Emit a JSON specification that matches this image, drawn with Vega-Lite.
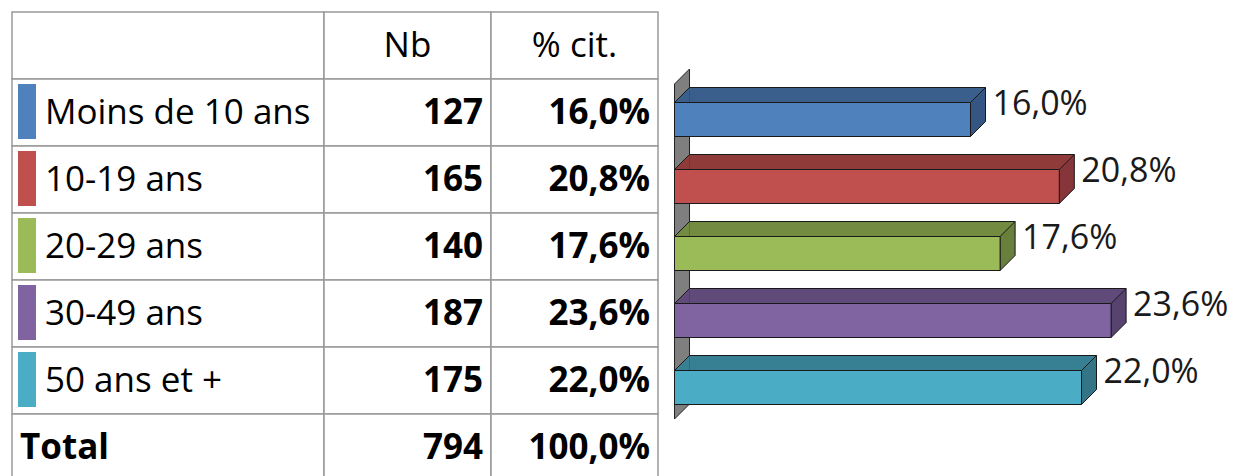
{
  "$schema": "https://vega.github.io/schema/vega-lite/v6.json",
  "padding": {"left": 11, "top": 11, "right": 0, "bottom": 0},
  "background": "white",
  "spacing": 13.5,
  "config": {
    "view": {"stroke": null},
    "font": "Open Sans",
    "locale": {"number": {"decimal": ",", "thousands": " ", "grouping": [3], "currency": ["", " €"]}}
  },
  "datasets": {
    "table": [
      {"row": "head", "kind": "head"},
      {"row": "Moins de 10 ans", "kind": "cat", "nb": 127, "pct": 0.160},
      {"row": "10-19 ans", "kind": "cat", "nb": 165, "pct": 0.208},
      {"row": "20-29 ans", "kind": "cat", "nb": 140, "pct": 0.176},
      {"row": "30-49 ans", "kind": "cat", "nb": 187, "pct": 0.236},
      {"row": "50 ans et +", "kind": "cat", "nb": 175, "pct": 0.220},
      {"row": "Total", "kind": "total", "nb": 794, "pct": 1.0}
    ]
  },
  "hconcat": [
    {
      "spacing": 0,
      "bounds": "flush",
      "hconcat": [
        {
          "width": 312,
          "height": 469,
          "data": {"name": "table"},
          "encoding": {
            "y": {"field": "row", "type": "nominal", "axis": null, "sort": null,
              "scale": {"domain": ["head", "Moins de 10 ans", "10-19 ans", "20-29 ans", "30-49 ans", "50 ans et +", "Total"], "paddingInner": 0, "paddingOuter": 0}}
          },
          "layer": [
            {
              "mark": {"type": "rect", "fill": "white", "stroke": "#999999", "strokeWidth": 1.5},
              "encoding": {"x": {"value": 0}, "x2": {"value": "width"}}
            },
            {
              "transform": [{"filter": "datum.kind == 'cat'"}],
              "mark": {"type": "bar", "height": 55, "yOffset": -1},
              "encoding": {
                "x": {"value": 6}, "x2": {"value": 24},
                "color": {"field": "row", "type": "nominal", "legend": null,
                  "scale": {"domain": ["Moins de 10 ans", "10-19 ans", "20-29 ans", "30-49 ans", "50 ans et +"], "range": ["#4F81BD", "#C0504D", "#9BBB59", "#8064A2", "#4BACC6"]}}
              }
            },
            {
              "transform": [{"filter": "datum.kind == 'cat'"}],
              "mark": {"type": "text", "align": "left", "baseline": "middle", "dx": 33, "fontSize": 35, "color": "#000"},
              "encoding": {"x": {"value": 0}, "text": {"field": "row", "type": "nominal"}}
            },
            {
              "transform": [{"filter": "datum.kind == 'total'"}],
              "mark": {"type": "text", "align": "left", "baseline": "middle", "dx": 8, "fontSize": 35, "fontWeight": "bold", "color": "#000"},
              "encoding": {"x": {"value": 0}, "text": {"field": "row", "type": "nominal"}}
            }
          ]
        },
        {
          "width": 167,
          "height": 469,
          "data": {"name": "table"},
          "encoding": {
            "y": {"field": "row", "type": "nominal", "axis": null, "sort": null,
              "scale": {"domain": ["head", "Moins de 10 ans", "10-19 ans", "20-29 ans", "30-49 ans", "50 ans et +", "Total"], "paddingInner": 0, "paddingOuter": 0}}
          },
          "layer": [
            {
              "mark": {"type": "rect", "fill": "white", "stroke": "#999999", "strokeWidth": 1.5},
              "encoding": {"x": {"value": 0}, "x2": {"value": "width"}}
            },
            {
              "transform": [{"filter": "datum.kind == 'head'"}],
              "mark": {"type": "text", "align": "center", "baseline": "middle", "fontSize": 35, "color": "#000"},
              "encoding": {"x": {"value": 83.5}, "text": {"value": "Nb"}}
            },
            {
              "transform": [{"filter": "datum.kind != 'head'"}],
              "mark": {"type": "text", "align": "right", "baseline": "middle", "dx": -8, "fontSize": 35, "fontWeight": "bold", "color": "#000"},
              "encoding": {"x": {"value": "width"}, "text": {"field": "nb", "type": "quantitative", "format": "d"}}
            }
          ]
        },
        {
          "width": 167,
          "height": 469,
          "data": {"name": "table"},
          "encoding": {
            "y": {"field": "row", "type": "nominal", "axis": null, "sort": null,
              "scale": {"domain": ["head", "Moins de 10 ans", "10-19 ans", "20-29 ans", "30-49 ans", "50 ans et +", "Total"], "paddingInner": 0, "paddingOuter": 0}}
          },
          "layer": [
            {
              "mark": {"type": "rect", "fill": "white", "stroke": "#999999", "strokeWidth": 1.5},
              "encoding": {"x": {"value": 0}, "x2": {"value": "width"}}
            },
            {
              "transform": [{"filter": "datum.kind == 'head'"}],
              "mark": {"type": "text", "align": "center", "baseline": "middle", "fontSize": 35, "color": "#000"},
              "encoding": {"x": {"value": 83.5}, "text": {"value": "% cit."}}
            },
            {
              "transform": [{"filter": "datum.kind != 'head'"}],
              "mark": {"type": "text", "align": "right", "baseline": "middle", "dx": -8, "fontSize": 35, "fontWeight": "bold", "color": "#000"},
              "encoding": {"x": {"value": "width"}, "text": {"field": "pct", "type": "quantitative", "format": ".1%"}}
            }
          ]
        }
      ]
    },
    {
      "width": 555,
      "height": 469,
      "data": {"name": "table"},
      "transform": [{"filter": "datum.kind == 'cat'"}],
      "encoding": {
        "y": {"field": "row", "type": "nominal", "axis": null, "sort": null,
          "scale": {"domain": ["head", "Moins de 10 ans", "10-19 ans", "20-29 ans", "30-49 ans", "50 ans et +", "Total"], "paddingInner": 0, "paddingOuter": 0}},
        "x": {"field": "pct", "type": "quantitative", "axis": null, "scale": {"domain": [0, 0.3], "nice": false, "zero": true}}
      },
      "resolve": {"scale": {"fill": "independent"}},
      "layer": [
        {
          "transform": [{"filter": "datum.row == 'Moins de 10 ans'"}],
          "mark": {"type": "point", "filled": true, "size": 4, "fill": "#7f7f7f", "stroke": "#222222", "strokeWidth": 1, "opacity": 1,
            "shape": "M0,-28.5 L15,-43.5 L15,291.5 L0,306.5 Z"},
          "encoding": {
            "x": {"datum": 0, "type": "quantitative"}
          }
        },
        {
          "mark": {"type": "bar", "height": 15, "yOffset": -17.5, "xOffset": 15, "x2Offset": 15},
          "encoding": {
            "fill": {"field": "row", "type": "nominal", "legend": null,
              "scale": {"domain": ["Moins de 10 ans", "10-19 ans", "20-29 ans", "30-49 ans", "50 ans et +"], "range": ["#3B5F8C", "#8F3B39", "#728B41", "#5F4A79", "#378093"]}}
          }
        },
        {
          "mark": {"type": "point", "filled": true, "size": 4, "opacity": 1, "strokeWidth": 0, "shape": "M0,-10 L15,-25 L15,-10 Z"},
          "encoding": {
            "x": {"datum": 0, "type": "quantitative"},
            "fill": {"field": "row", "type": "nominal", "legend": null,
              "scale": {"domain": ["Moins de 10 ans", "10-19 ans", "20-29 ans", "30-49 ans", "50 ans et +"], "range": ["#3B5F8C", "#8F3B39", "#728B41", "#5F4A79", "#378093"]}}
          }
        },
        {
          "mark": {"type": "point", "filled": false, "size": 4, "opacity": 1, "stroke": "#1a1a1a", "strokeWidth": 1, "shape": "M0,-10 L15,-25"},
          "encoding": {"x": {"datum": 0, "type": "quantitative"}}
        },
        {
          "mark": {"type": "bar", "height": 1, "yOffset": -25, "xOffset": 15, "x2Offset": 15, "color": "#1a1a1a"}
        },
        {
          "mark": {"type": "point", "filled": true, "size": 4, "opacity": 1, "stroke": "#1a1a1a", "strokeWidth": 1, "shape": "M0,-10 L15,-25 L15,9 L0,24 Z"},
          "encoding": {
            "fill": {"field": "row", "type": "nominal", "legend": null,
              "scale": {"domain": ["Moins de 10 ans", "10-19 ans", "20-29 ans", "30-49 ans", "50 ans et +"], "range": ["#355683", "#86363A", "#69803C", "#574370", "#337587"]}}
          }
        },
        {
          "mark": {"type": "bar", "height": 34, "yOffset": 7, "stroke": "#1a1a1a", "strokeWidth": 1},
          "encoding": {
            "fill": {"field": "row", "type": "nominal", "legend": null,
              "scale": {"domain": ["Moins de 10 ans", "10-19 ans", "20-29 ans", "30-49 ans", "50 ans et +"], "range": ["#4F81BD", "#C0504D", "#9BBB59", "#8064A2", "#4BACC6"]}}
          }
        },
        {
          "mark": {"type": "text", "align": "left", "baseline": "middle", "dx": 22, "yOffset": -8, "fontSize": 34, "color": "#1a1a1a"},
          "encoding": {
            "text": {"field": "pct", "type": "quantitative", "format": ".1%"}
          }
        }
      ]
    }
  ]
}
